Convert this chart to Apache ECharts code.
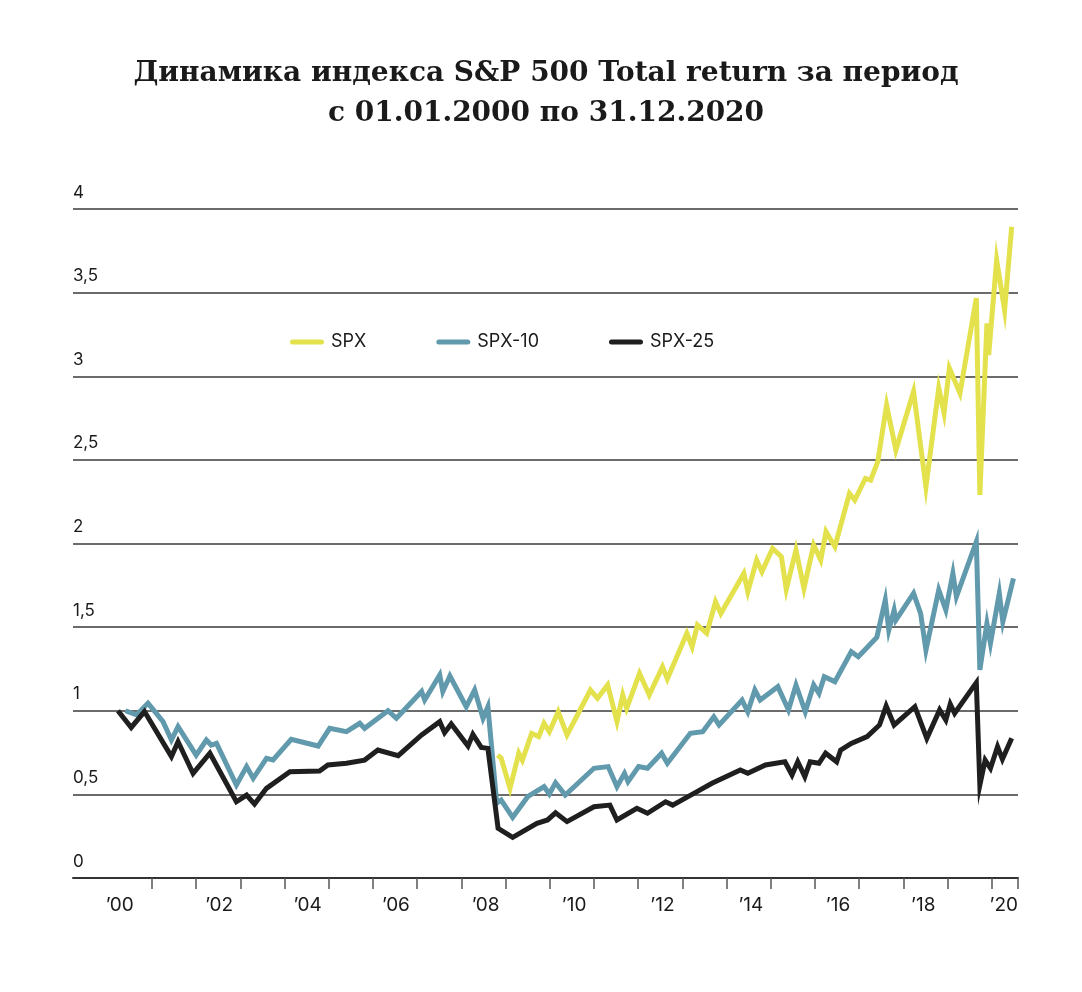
<!DOCTYPE html>
<html>
<head>
<meta charset="utf-8">
<script src="https://cdn.jsdelivr.net/npm/echarts@6/dist/echarts.min.js"></script>
<style>
html,body{margin:0;padding:0;background:#fff;}
#chart{width:1082px;height:992px;}
</style>
</head>
<body>
<div id="chart"></div>
<script>
// Decimal-year positions and index values
const spxX = [2008.82,2008.90,2009.10,2009.30,2009.38,2009.59,2009.75,2009.87,2009.99,2010.19,2010.39,2010.92,2011.08,2011.31,2011.52,2011.65,2011.74,2012.03,2012.25,2012.55,2012.66,2013.10,2013.22,2013.34,2013.55,2013.75,2013.87,2014.39,2014.48,2014.68,2014.80,2015.04,2015.24,2015.35,2015.57,2015.75,2015.97,2016.13,2016.25,2016.45,2016.78,2016.90,2017.14,2017.26,2017.42,2017.62,2017.83,2018.23,2018.51,2018.80,2018.92,2019.04,2019.28,2019.65,2019.73,2019.89,2019.93,2020.11,2020.29,2020.45];
const spxY = [0.735,0.716,0.536,0.746,0.705,0.865,0.845,0.925,0.875,0.994,0.855,1.124,1.074,1.154,0.935,1.094,1.014,1.224,1.094,1.263,1.19,1.463,1.383,1.513,1.463,1.652,1.582,1.821,1.712,1.901,1.831,1.97,1.921,1.726,1.961,1.732,1.991,1.901,2.071,1.981,2.30,2.26,2.389,2.379,2.489,2.828,2.559,2.909,2.339,2.929,2.78,3.049,2.899,3.467,2.29,3.317,3.127,3.695,3.396,3.894];

const spx10X = [2000.40,2000.65,2000.91,2001.25,2001.44,2001.59,2002.00,2002.23,2002.34,2002.46,2002.91,2003.14,2003.29,2003.59,2003.74,2004.15,2004.76,2005.02,2005.40,2005.70,2005.81,2006.34,2006.53,2007.10,2007.17,2007.51,2007.58,2007.74,2008.11,2008.30,2008.49,2008.60,2008.80,2008.90,2009.16,2009.50,2009.87,2009.99,2010.13,2010.35,2011.00,2011.32,2011.52,2011.69,2011.77,2012.01,2012.21,2012.53,2012.66,2013.18,2013.46,2013.71,2013.83,2014.35,2014.48,2014.64,2014.76,2015.16,2015.40,2015.57,2015.78,2015.97,2016.09,2016.21,2016.45,2016.82,2016.98,2017.40,2017.59,2017.67,2017.79,2017.83,2018.23,2018.39,2018.51,2018.80,2018.96,2019.12,2019.20,2019.65,2019.73,2019.89,2019.97,2020.17,2020.25,2020.49];
const spx10Y = [1.0,0.975,1.045,0.935,0.825,0.905,0.735,0.825,0.795,0.805,0.556,0.666,0.596,0.716,0.706,0.829,0.789,0.895,0.875,0.925,0.895,1.0,0.955,1.115,1.064,1.214,1.115,1.208,1.024,1.124,0.955,1.024,0.447,0.466,0.363,0.486,0.546,0.502,0.57,0.496,0.656,0.666,0.546,0.626,0.576,0.666,0.656,0.746,0.686,0.865,0.875,0.964,0.915,1.064,0.994,1.124,1.064,1.144,1.005,1.154,0.994,1.154,1.104,1.203,1.174,1.353,1.323,1.44,1.662,1.482,1.602,1.542,1.702,1.582,1.363,1.722,1.602,1.821,1.682,2.011,1.244,1.522,1.403,1.702,1.532,1.791];

const spx25X = [2000.23,2000.53,2000.83,2001.44,2001.59,2001.93,2002.31,2002.91,2003.14,2003.32,2003.59,2004.12,2004.79,2004.98,2005.40,2005.81,2006.11,2006.57,2007.10,2007.51,2007.62,2007.77,2008.15,2008.26,2008.45,2008.60,2008.83,2009.16,2009.71,2009.95,2010.13,2010.39,2011.00,2011.36,2011.52,2011.97,2012.21,2012.62,2012.78,2013.26,2013.67,2014.31,2014.48,2014.88,2015.32,2015.48,2015.61,2015.77,2015.89,2016.09,2016.24,2016.49,2016.58,2016.82,2017.18,2017.46,2017.61,2017.79,2018.26,2018.53,2018.82,2018.96,2019.06,2019.16,2019.65,2019.73,2019.85,2019.97,2020.13,2020.24,2020.45];
const spx25Y = [1.0,0.90,0.995,0.726,0.815,0.625,0.746,0.456,0.496,0.442,0.536,0.636,0.64,0.676,0.686,0.705,0.765,0.731,0.855,0.935,0.869,0.921,0.789,0.859,0.781,0.775,0.297,0.243,0.327,0.347,0.39,0.337,0.426,0.436,0.347,0.417,0.387,0.456,0.436,0.506,0.566,0.646,0.626,0.676,0.695,0.616,0.695,0.606,0.695,0.686,0.746,0.695,0.765,0.805,0.845,0.915,1.028,0.915,1.024,0.835,1.005,0.945,1.04,0.985,1.168,0.556,0.705,0.656,0.785,0.71,0.835];

const seriesNames = ['SPX', 'SPX-10', 'SPX-25'];
const yearTicks = [2001,2002,2003,2004,2005,2006,2007,2008,2009,2010,2011,2012,2013,2014,2015,2016,2017,2018,2019,2020,2020.593];
const yearLabelPos = [2000.27,2002.52,2004.52,2006.52,2008.55,2010.55,2012.55,2014.55,2016.52,2018.45,2020.27];
const titleText = 'Динамика индекса S&P 500 Total return за период\nс 01.01.2000 по 31.12.2020';

const zip = (xs, ys) => xs.map((x, i) => [x, ys[i]]);

const chart = echarts.init(document.getElementById('chart'));
const sans = 'Inter, Roboto, "Liberation Sans", sans-serif';
const legendIcon = 'path://M2.5,0 L31.5,0 A2.5,2.5 0 0 1 31.5,5 L2.5,5 A2.5,2.5 0 0 1 2.5,0 Z';

chart.setOption({
  animation: false,
  backgroundColor: '#ffffff',
  title: {
    text: titleText,
    left: 541,
    top: 49,
    textAlign: 'center',
    textStyle: {
      fontFamily: '"DejaVu Serif", serif',
      fontWeight: 'bold',
      fontSize: 28,
      lineHeight: 40,
      color: '#1a1a1a'
    }
  },
  legend: {
    data: seriesNames,
    left: 285,
    top: 328,
    itemWidth: 34,
    itemHeight: 5,
    itemGap: 70,
    icon: legendIcon,
    textStyle: { fontFamily: sans, fontSize: 18, color: '#1a1a1a', padding: [0,0,0,2] }
  },
  grid: { left: 73, right: 64, top: 209, bottom: 114, containLabel: false },
  xAxis: {
    type: 'value',
    min: 1999.213,
    max: 2020.593,
    splitLine: { show: false },
    axisLine: { show: true, lineStyle: { color: '#333', width: 2 } },
    axisTick: { show: true, customValues: yearTicks, length: 11, inside: false, lineStyle: { color: '#555', width: 1.5 } },
    axisLabel: {
      customValues: yearLabelPos,
      margin: 18,
      fontFamily: sans,
      fontSize: 19,
      color: '#1a1a1a',
      formatter: v => '\u2019' + String(Math.floor(v) % 100).padStart(2, '0')
    }
  },
  yAxis: {
    type: 'value',
    min: 0,
    max: 4,
    interval: 0.5,
    axisLine: { show: false },
    axisTick: { show: false },
    splitLine: { show: true, lineStyle: { color: '#3a3a3a', width: 1.5 } },
    axisLabel: {
      inside: true,
      margin: 0,
      verticalAlign: 'bottom',
      padding: [0, 0, 8, 0],
      fontFamily: sans,
      fontSize: 17,
      color: '#1a1a1a',
      formatter: v => String(v).replace('.', ',')
    }
  },
  series: [
    {
      name: 'SPX', type: 'line', z: 4, showSymbol: false, symbol: 'none',
      data: zip(spxX, spxY),
      itemStyle: { color: '#e3e14c' },
      lineStyle: { color: '#e3e14c', width: 5, join: 'miter' }
    },
    {
      name: 'SPX-10', type: 'line', z: 2, showSymbol: false, symbol: 'none',
      data: zip(spx10X, spx10Y),
      itemStyle: { color: '#6199ad' },
      lineStyle: { color: '#6199ad', width: 5, join: 'miter' }
    },
    {
      name: 'SPX-25', type: 'line', z: 3, showSymbol: false, symbol: 'none',
      data: zip(spx25X, spx25Y),
      itemStyle: { color: '#1f1f1f' },
      lineStyle: { color: '#1f1f1f', width: 5, join: 'miter' }
    }
  ]
});
</script>
</body>
</html>
